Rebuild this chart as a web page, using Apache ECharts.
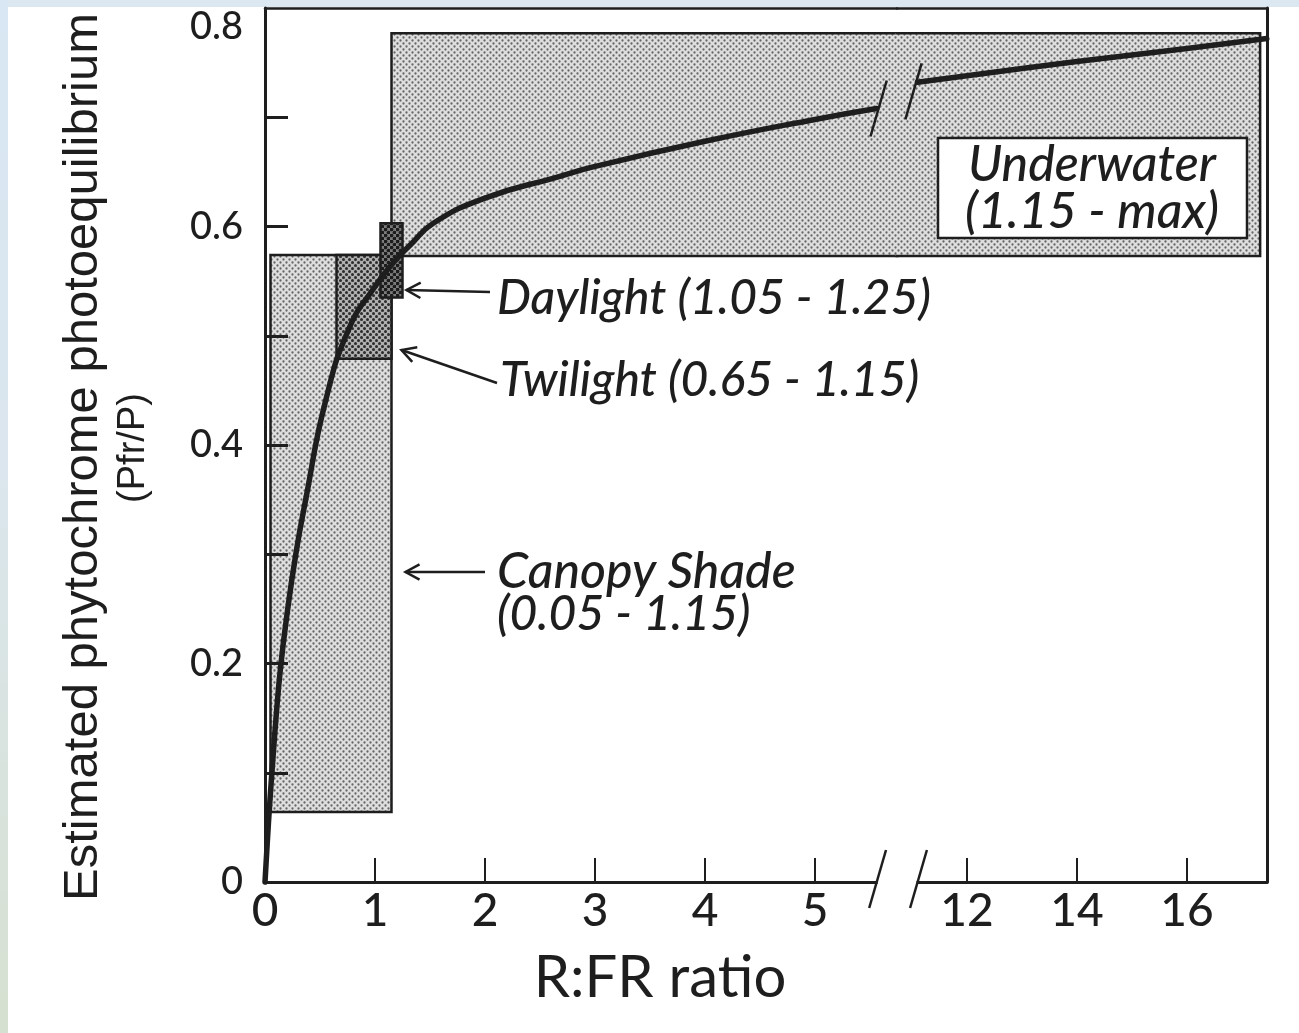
<!DOCTYPE html>
<html>
<head>
<meta charset="utf-8">
<script src="https://cdn.jsdelivr.net/npm/echarts@6/dist/echarts.min.js"></script>
<style>
  html, body { margin: 0; padding: 0; background: #ffffff; }
  #chart { width: 1299px; height: 1033px; }
</style>
</head>
<body>
<div id="chart"></div>
<script>
// Phytochrome photoequilibrium (Pfr/P) as a function of the R:FR ratio,
// with the ranges found in different light environments.

// Curve, low R:FR segment (left of the axis break)
const curveLowX = [0, 0.02, 0.045, 0.07, 0.1, 0.14, 0.2, 0.28, 0.37, 0.55, 0.77, 1.0, 1.15, 1.32, 1.53, 2.0, 2.65, 3.0, 4.0, 5.0, 5.56];
const curveLowY = [0, 0.035, 0.075, 0.11, 0.15, 0.195, 0.245, 0.3, 0.35, 0.44, 0.508, 0.545, 0.565, 0.583, 0.603, 0.626, 0.645, 0.655, 0.678, 0.698, 0.708];
// Curve, high R:FR segment (right of the axis break)
const curveHighX = [11.1, 12, 14, 16, 17.45];
const curveHighY = [0.732, 0.738, 0.751, 0.763, 0.772];

// Tick values
const xTicksLow = [0, 1, 2, 3, 4, 5];
const xTicksHigh = [12, 14, 16];
const yLabelValues = [0, 0.2, 0.4, 0.6, 0.8];
const yTickValues = [0.1, 0.2, 0.3, 0.4, 0.5, 0.6, 0.7];

// Light environments: [R:FR from, R:FR to, Pfr/P bottom, Pfr/P top]
const canopyShade = [0.05, 1.15, 0.064, 0.574];
const twilight = [0.65, 1.15, 0.479, 0.574];
const daylight = [1.05, 1.25, 0.535, 0.603];
const underwater = [1.15, 17.33, 0.573, 0.777];

// ---- layout of the two broken-axis panels ----
const PLOT_TOP = 8, PLOT_BOTTOM = 882;
const LEFT_X0 = 265, SPLIT_X = 897, RIGHT_X1 = 1267;
const LOW_PX_PER_UNIT = 110, HIGH_PX_PER_UNIT = 55;
const LOW_MAX = (SPLIT_X - LEFT_X0) / LOW_PX_PER_UNIT;
const HIGH_MIN = 12 - (967 - SPLIT_X) / HIGH_PX_PER_UNIT;
const HIGH_MAX = HIGH_MIN + (RIGHT_X1 - SPLIT_X) / HIGH_PX_PER_UNIT;

const INK = '#1e1e1e';
const LABEL_FONT = 'Lato';

// Halftone-like dot fills
function dotPattern(bg, dot, size, r) {
  const c = document.createElement('canvas');
  c.width = c.height = size;
  const g = c.getContext('2d');
  g.fillStyle = bg;
  g.fillRect(0, 0, size, size);
  g.fillStyle = dot;
  [[size / 4, size / 4], [size * 3 / 4, size * 3 / 4]].forEach(([cx, cy]) => {
    g.beginPath(); g.arc(cx, cy, r, 0, Math.PI * 2); g.fill();
  });
  return { image: c, repeat: 'repeat' };
}
const lightDots = dotPattern('#dedede', '#666666', 6, 1.15);
const midDots = dotPattern('#b0b0b0', '#2c2c2c', 6, 1.5);
const darkDots = dotPattern('#7c7c7c', '#1c1c1c', 6, 1.85);

// sides: 'all' | 'openRight' | 'openLeft'
function boxSeries(name, range, gridIdx, fill, sides, z) {
  return {
    type: 'custom',
    name: name,
    xAxisIndex: gridIdx,
    yAxisIndex: gridIdx,
    z: z,
    silent: true,
    data: [range],
    renderItem: function (params, api) {
      const tl = api.coord([api.value(0), api.value(3)]);
      const br = api.coord([api.value(1), api.value(2)]);
      const x0 = tl[0], y0 = tl[1], x1 = br[0], y1 = br[1];
      // open sides overlap the neighbouring panel slightly so the fill is seamless
      const fx0 = sides === 'openLeft' ? x0 - 1.5 : x0;
      const fx1 = sides === 'openRight' ? x1 + 1.5 : x1;
      const children = [{
        type: 'rect',
        shape: { x: fx0, y: y0, width: fx1 - fx0, height: y1 - y0 },
        style: { fill: fill, stroke: sides === 'all' ? INK : null, lineWidth: 2.5 }
      }];
      if (sides === 'openRight') {
        children.push({ type: 'polyline', shape: { points: [[fx1, y0], [x0, y0], [x0, y1], [fx1, y1]] },
          style: { fill: null, stroke: INK, lineWidth: 2.5 } });
      } else if (sides === 'openLeft') {
        children.push({ type: 'polyline', shape: { points: [[fx0, y0], [x1, y0], [x1, y1], [fx0, y1]] },
          style: { fill: null, stroke: INK, lineWidth: 2.5 } });
      }
      return { type: 'group', children: children };
    }
  };
}

const chart = echarts.init(document.getElementById('chart'), null, { renderer: 'canvas' });

const hidden = { show: false };
const yBase = { type: 'value', min: 0, max: 0.8, splitLine: hidden };
const tickLabelStyle = { color: INK, fontFamily: LABEL_FONT, fontWeight: 500 };

const option = {
  backgroundColor: '#ffffff',
  animation: false,
  grid: [
    { left: LEFT_X0, top: PLOT_TOP, width: SPLIT_X - LEFT_X0, height: PLOT_BOTTOM - PLOT_TOP, outerBoundsMode: 'none', containLabel: false },
    { left: SPLIT_X, top: PLOT_TOP, width: RIGHT_X1 - SPLIT_X, height: PLOT_BOTTOM - PLOT_TOP, outerBoundsMode: 'none', containLabel: false }
  ],
  xAxis: [
    {
      type: 'value', gridIndex: 0, min: 0, max: LOW_MAX, position: 'bottom', z: 10,
      splitLine: hidden,
      axisLine: { show: true, onZero: false, lineStyle: { color: INK, width: 3 } },
      axisTick: { show: true, inside: true, length: 24, customValues: xTicksLow.slice(1), lineStyle: { color: INK, width: 2 } },
      axisLabel: Object.assign({ show: true, customValues: xTicksLow, margin: 6, fontSize: 46 }, tickLabelStyle)
    },
    {
      type: 'value', gridIndex: 1, min: HIGH_MIN, max: HIGH_MAX, position: 'bottom', z: 10,
      splitLine: hidden,
      axisLine: { show: true, onZero: false, lineStyle: { color: INK, width: 3 } },
      axisTick: { show: true, inside: true, length: 24, customValues: xTicksHigh, lineStyle: { color: INK, width: 2 } },
      axisLabel: Object.assign({ show: true, customValues: xTicksHigh, margin: 6, fontSize: 46 }, tickLabelStyle)
    },
    {
      type: 'value', gridIndex: 0, min: 0, max: LOW_MAX, position: 'top',
      splitLine: hidden, axisTick: hidden, axisLabel: hidden,
      axisLine: { show: true, onZero: false, lineStyle: { color: INK, width: 2.5 } }
    },
    {
      type: 'value', gridIndex: 1, min: HIGH_MIN, max: HIGH_MAX, position: 'top',
      splitLine: hidden, axisTick: hidden, axisLabel: hidden,
      axisLine: { show: true, onZero: false, lineStyle: { color: INK, width: 2.5 } }
    }
  ],
  yAxis: [
    Object.assign({}, yBase, {
      gridIndex: 0, position: 'left', z: 10,
      axisLine: { show: true, onZero: false, lineStyle: { color: INK, width: 3 } },
      axisTick: { show: true, inside: true, length: 23, customValues: yTickValues, lineStyle: { color: INK, width: 3 } },
      axisLabel: Object.assign({ show: true, customValues: yLabelValues, margin: 22, fontSize: 38,
        verticalAlignMaxLabel: 'top' }, tickLabelStyle)
    }),
    Object.assign({}, yBase, {
      gridIndex: 1, position: 'right',
      axisLine: { show: true, onZero: false, lineStyle: { color: INK, width: 3 } },
      axisTick: hidden, axisLabel: hidden
    })
  ],
  series: [
    boxSeries('Canopy Shade', canopyShade, 0, lightDots, 'all', 2),
    boxSeries('Underwater', [underwater[0], LOW_MAX, underwater[2], underwater[3]], 0, lightDots, 'openRight', 2),
    boxSeries('Underwater', [HIGH_MIN, underwater[1], underwater[2], underwater[3]], 1, lightDots, 'openLeft', 2),
    boxSeries('Twilight', twilight, 0, midDots, 'all', 3),
    boxSeries('Daylight', daylight, 0, darkDots, 'all', 4),
    {
      type: 'line', name: 'Pfr/P', xAxisIndex: 0, yAxisIndex: 0, z: 12,
      data: curveLowX.map((x, i) => [x, curveLowY[i]]),
      showSymbol: false, smooth: 0.5, clip: false,
      lineStyle: { color: INK, width: 5.5, join: 'round', cap: 'round' }
    },
    {
      type: 'line', name: 'Pfr/P', xAxisIndex: 1, yAxisIndex: 1, z: 12,
      data: curveHighX.map((x, i) => [x, curveHighY[i]]),
      showSymbol: false, smooth: 0.5, clip: false,
      lineStyle: { color: INK, width: 5.5, join: 'round', cap: 'round' }
    }
  ]
};
chart.setOption(option);

// ---- annotations ----
const px = (x, y) => chart.convertToPixel({ gridIndex: 0 }, [x, y]);
const pxHigh = (x, y) => chart.convertToPixel({ gridIndex: 1 }, [x, y]);

function arrow(tail, tip, z) {
  const ang = Math.atan2(tail[1] - tip[1], tail[0] - tip[0]);
  const head = 16, spread = 0.5;
  const a1 = [tip[0] + head * Math.cos(ang + spread), tip[1] + head * Math.sin(ang + spread)];
  const a2 = [tip[0] + head * Math.cos(ang - spread), tip[1] + head * Math.sin(ang - spread)];
  return [
    { type: 'polyline', z: z, shape: { points: [tail, tip] }, style: { stroke: INK, lineWidth: 2.5, fill: null } },
    { type: 'polyline', z: z, shape: { points: [a1, tip, a2] }, style: { stroke: INK, lineWidth: 2.5, fill: null } }
  ];
}
function note(text, x, y, size, align) {
  return {
    type: 'text', z: 100, x: x, y: y,
    style: { text: text, fill: INK, font: 'italic 500 ' + size + 'px ' + LABEL_FONT,
      textAlign: align || 'left', textVerticalAlign: 'middle' }
  };
}
function slash(cx, cy, len) {
  // slanted break mark centred on (cx, cy)
  const dx = len * 0.29 / 2, dy = len / 2;
  return { type: 'line', z: 100, shape: { x1: cx + dx, y1: cy - dy, x2: cx - dx, y2: cy + dy },
    style: { stroke: INK, lineWidth: 2.5 } };
}

const dayTip = px(daylight[1], (daylight[2] + daylight[3]) / 2);
const twiTip = px(twilight[1], twilight[2] + 0.12 * (twilight[3] - twilight[2]));
const canTip = px(canopyShade[1], 0.285);
const lowEnd = px(curveLowX[curveLowX.length - 1], curveLowY[curveLowY.length - 1]);
const highStart = pxHigh(curveHighX[0], curveHighY[0]);

const elements = [
  // light scan border strips
  { type: 'rect', z: -10, shape: { x: 0, y: 0, width: 1299, height: 7 }, style: { fill: '#dbe8f2' } },
  { type: 'rect', z: -10, shape: { x: 0, y: 0, width: 8, height: 1033 },
    style: { fill: new echarts.graphic.LinearGradient(0, 0, 0, 1, [
      { offset: 0, color: '#d8e7f3' }, { offset: 0.45, color: '#dbe6ee' }, { offset: 1, color: '#d6e0d0' }]) } },

  // gap in the x axis line and break marks
  { type: 'rect', z: 50, shape: { x: lowEnd[0] + 1, y: PLOT_BOTTOM - 4, width: highStart[0] - lowEnd[0] - 2, height: 8 }, style: { fill: '#ffffff' } },
  slash(lowEnd[0] + 1, PLOT_BOTTOM - 3, 58),
  slash(highStart[0] + 1, PLOT_BOTTOM - 3, 58),
  slash(lowEnd[0] + 2, lowEnd[1], 56),
  slash(highStart[0] - 4, highStart[1] + 9, 56),

  // region labels
  note('Daylight (1.05 - 1.25)', 497, 299, 48),
  note('Twilight (0.65 - 1.15)', 500, 381, 48),
  note('Canopy Shade', 497, 572, 50),
  note('(0.05 - 1.15)', 497, 615, 48),
  { type: 'rect', z: 90, shape: { x: 938, y: 138, width: 309, height: 100 },
    style: { fill: '#ffffff', stroke: INK, lineWidth: 2.5 } },
  note('Underwater', 1092, 165, 50, 'center'),
  note('(1.15 - max)', 1092, 212, 50, 'center'),

  // axis titles
  { type: 'text', z: 100, x: 660, y: 978,
    style: { text: 'R:FR ratio', fill: INK, font: '58px ' + LABEL_FONT, textAlign: 'center', textVerticalAlign: 'middle' } },
  { type: 'text', z: 100, x: 83, y: 457, rotation: Math.PI / 2,
    style: { text: 'Estimated phytochrome photoequilibrium', fill: INK, font: '49px "Liberation Sans"', textAlign: 'center', textVerticalAlign: 'middle' } },
  { type: 'text', z: 100, x: 134, y: 448, rotation: Math.PI / 2,
    style: { text: '(Pfr/P)', fill: INK, font: '38px "Liberation Sans"', textAlign: 'center', textVerticalAlign: 'middle' } }
].concat(
  arrow([490, 292], [dayTip[0] + 4, 290], 100),
  arrow([497, 383], [twiTip[0] + 10, 350], 100),
  arrow([485, 572], [canTip[0] + 14, 572], 100)
);

chart.setOption({ graphic: { elements: elements } });
</script>
</body>
</html>
